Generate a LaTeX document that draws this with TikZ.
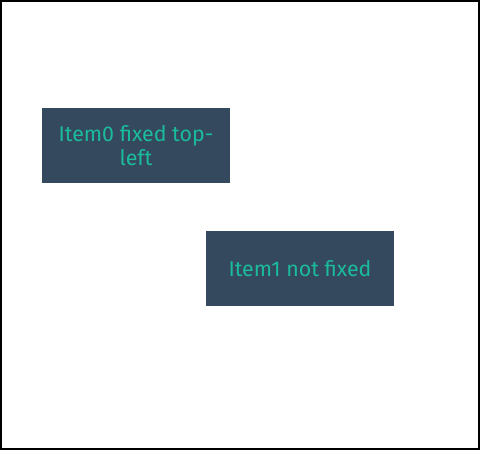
\documentclass[tikz,border=0pt]{standalone}
\usepackage{fontspec}
\setmainfont{Fira Sans}
\usetikzlibrary{positioning}
\definecolor{slateblue}{HTML}{34495E}
\definecolor{tealtext}{HTML}{1ABC9C}

\begin{document}
\begin{tikzpicture}[
    x=0.75pt, y=-0.75pt,
    item/.style={fill=slateblue, text=tealtext, minimum width=141pt, minimum height=56.25pt,
        inner sep=0pt, align=center, font=\fontsize{16}{18}\selectfont},
]

    % --- Frame ---
    \draw[black, line width=1.5pt] (1,1) rectangle (479,449);
    \useasboundingbox (0,0) rectangle (480,450);

    % --- Nodes ---
    \node[item] (item0) at (136,145.5) {Item0 fixed top-\\left};
    \node[item] (item1) at (300,268.5) {Item1 not fixed};

\end{tikzpicture}
\end{document}
